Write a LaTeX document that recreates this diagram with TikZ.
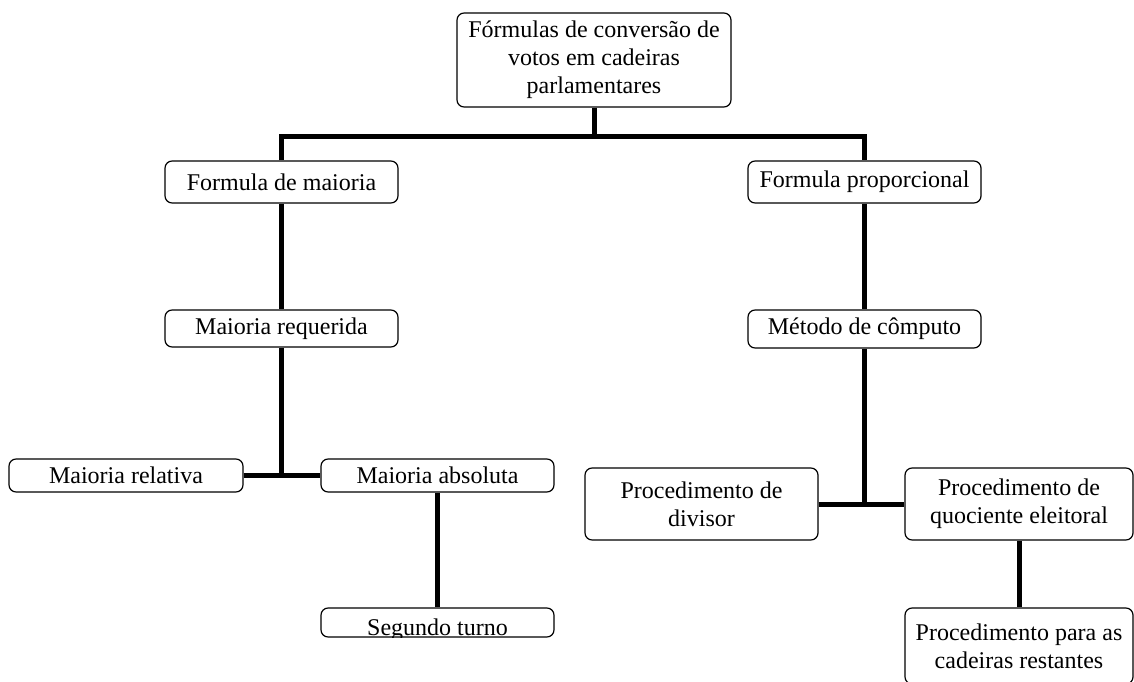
\documentclass[tikz,border=0pt]{standalone}
\usepackage{fontspec}
\setmainfont{Liberation Serif}
\usetikzlibrary{positioning}

\begin{document}
\begin{tikzpicture}[
    x=1pt, y=-1pt, % pixel grid, y going down
    % Styles
    box/.style={ % Chart box
        rectangle,
        rounded corners=2.5mm,
        draw,
        line width=1.2pt,
        fill=white,
        minimum width=233pt,
        inner sep=0pt,
        align=center,
        font=\fontsize{24}{28}\selectfont
    },
    link/.style={ % Thick connector
        line width=5pt
    }
]
    \useasboundingbox (0,0) rectangle (1134,682);

    % Root
    \node[box, minimum width=274pt, minimum height=94pt] (root) at (594,60)
        {Fórmulas de conversão de\\votos em cadeiras\\parlamentares};

    % First level
    \node[box, minimum height=42pt] (fmaj) at (281.5,182) {Formula de maioria};
    \node[box, minimum height=42pt] (fprop) at (864.5,182) {Formula proporcional};

    % Second level
    \node[box, minimum height=37pt] (mreq) at (281.5,328.5) {Maioria requerida};
    \node[box, minimum height=38pt] (comp) at (864.5,329) {Método de cômputo};

    % Majority branch
    \node[box, minimum width=234pt, minimum height=33pt] (mrel) at (126,475.5) {Maioria relativa};
    \node[box, minimum height=33pt] (mabs) at (437.5,475.5) {Maioria absoluta};
    \node[box, minimum height=29pt] (seg) at (437.5,622.5) {};
    \begin{scope}
        \clip (seg.north west) rectangle (seg.south east);
        \node[anchor=base, yshift=2pt, font=\fontsize{24}{28}\selectfont] (segtxt) at (seg.south) {Segundo turno};
    \end{scope}

    % Proportional branch
    \node[box, minimum height=72pt] (div) at (701.5,504) {Procedimento de\\divisor};
    \node[box, minimum width=228pt, minimum height=72pt] (quoc) at (1019,504) {Procedimento de\\quociente eleitoral};
    \node[box, minimum width=228pt, minimum height=76pt] (rest) at (1019,646) {Procedimento para as\\cadeiras restantes};

    % Connectors
    \coordinate (split) at (594,136);
    \draw[link] (root.south) -- (split);
    \draw[link] (fmaj.north) |- (split) -| (fprop.north);
    \draw[link] (fmaj.south) -- (mreq.north);
    \draw[link] (fprop.south) -- (comp.north);
    \draw[link] (mreq.south) -- (mreq.south |- mrel.east);
    \draw[link] (mrel.east) -- (mabs.west);
    \draw[link] (mabs.south) -- (seg.north);
    \draw[link] (comp.south) -- (comp.south |- div.east);
    \draw[link] (div.east) -- (quoc.west);
    \draw[link] (quoc.south) -- (rest.north);

\end{tikzpicture}
\end{document}
